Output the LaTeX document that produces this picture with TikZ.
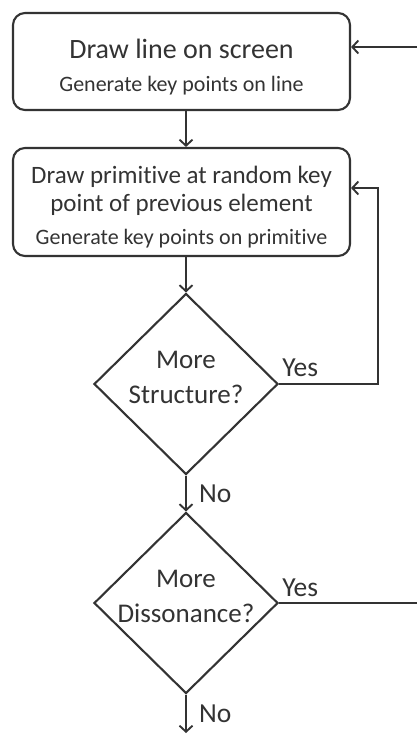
\documentclass[tikz,border=0pt]{standalone}
\usepackage{fontspec}
\setmainfont{Carlito}[Ligatures=NoCommon]
\usetikzlibrary{arrows.meta, positioning, shapes.geometric}
\definecolor{ink}{HTML}{333333}

\begin{document}
\begin{tikzpicture}[x=1pt, y=-1pt,
    blk/.style={draw=ink, line width=2.1pt, rounded corners=12pt, minimum width=337pt, inner sep=0pt, text=ink, align=center},
    dec/.style={diamond, draw=ink, line width=2.1pt, minimum width=184pt, minimum height=181pt, inner sep=-14pt, text=ink, align=center, font=\fontsize{27}{35}\selectfont},
    arr/.style={draw=ink, line width=1.9pt, -{Straight Barb[length=6pt, width=13pt]}},
    lbl/.style={text=ink, inner sep=0pt, font=\fontsize{27.5}{30}\selectfont}
]
\clip (0,0) rectangle (417,734);
%% boxes
\node[blk, minimum height=97pt, font=\fontsize{28}{33}\selectfont] (line) at (181.5,61.5)
  {\rule{0pt}{30pt}Draw line on screen\\{\fontsize{22}{26}\selectfont Generate key points on line}};
\node[blk, minimum height=108pt, font=\fontsize{25}{28}\selectfont] (prim) at (181.5,202)
  {\rule{0pt}{28pt}Draw primitive at random key\\point of previous element\\[5pt]{\fontsize{22}{26}\selectfont Generate key points on primitive}};
%% decisions
\node[dec] (more1) at (186,384) {More\\Structure?\rule[-14pt]{0pt}{14pt}};
\node[dec] (more2) at (186,603) {More\\Dissonance?\rule[-14pt]{0pt}{14pt}};
% bends of the back loops, and the way out
\coordinate (back1) at (378,188);
\coordinate (back2) at (440,47);
\coordinate (stop) at (186,733);
%% connectors
\draw[arr] (line.south -| more1.north) -- (prim.north -| more1.north);
\draw[arr] (prim.south -| more1.north) -- (more1.north);
\draw[arr] (more1.east) -| (back1) -- (back1 -| prim.east);
\draw[arr] (more1.south) -- (more2.north);
\draw[arr] (more2.east) -| (back2) -- (back2 -| line.east);
\draw[arr] (more2.south) -- (stop);
%% labels
\node[lbl, above right=7pt and 3pt of more1.east] (yes1) {Yes};
\node[lbl, above right=6pt and 3pt of more2.east] (yes2) {Yes};
\node[lbl, below right=9pt and 13pt of more1.south] (no1) {No};
\node[lbl, below right=10pt and 13pt of more2.south] (no2) {No};
\end{tikzpicture}
\end{document}
